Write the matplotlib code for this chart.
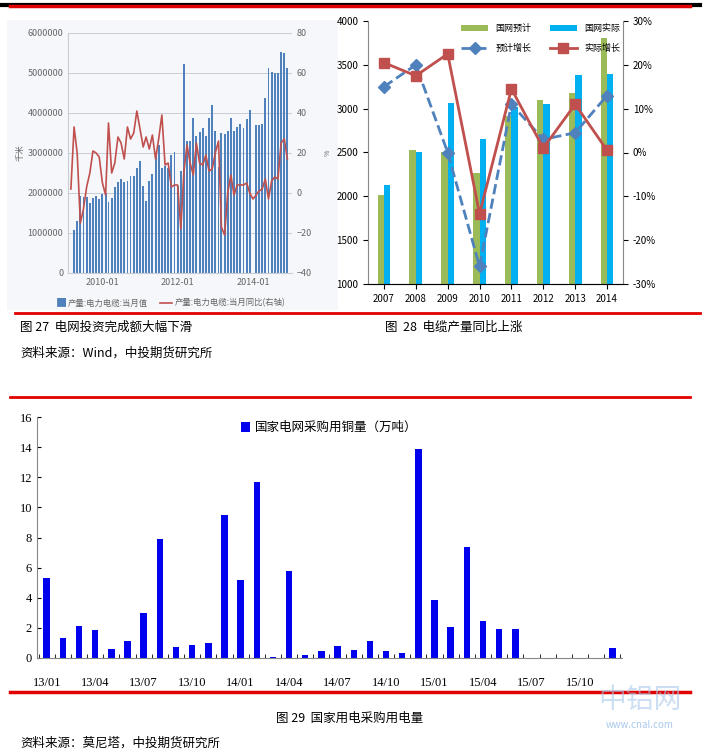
import matplotlib
matplotlib.use("Agg")
import matplotlib.pyplot as plt
import matplotlib.dates as mdates
import numpy as np
import pandas as pd

plt.rcParams['font.family'] = ['Noto Sans CJK SC', 'DejaVu Sans']

# ---- chart 27 data (monthly, 2009-03 .. 2014-12)
cable_vals = [1.07,1.3,1.93,1.9,1.9,1.76,1.87,1.93,1.86,1.98,
              2.0,1.78,1.87,2.15,2.27,2.34,2.27,2.3,2.42,2.42,2.62,2.8,
              2.17,1.8,2.3,2.47,2.93,3.2,2.63,2.67,2.62,2.95,3.03,2.17,
              2.55,5.22,3.3,3.3,3.88,3.42,3.52,3.63,3.42,3.88,4.2,3.55,
              2.65,3.5,3.48,3.55,3.88,3.55,3.65,3.72,3.63,3.85,4.07,0.0,
              3.7,3.7,3.72,4.37,5.13,5.02,5.0,5.0,5.52,5.5,5.12]
cable_yoy = [2,33,20,-15,-8,3,10,21,20,18,
             5,-1,35,10,15,28,25,17,33,27,30,41,
             32,23,28,22,29,17,27,39,14,15,3,4,
             4,-18,10,24,15,9,25,15,14,19,11,12,
             20,26,-17,-21,0,9,-1,4,4,4,5,0,
             -3,-1,1,2,7,-3,6,8,7,25,27,17]
months27 = pd.date_range("2009-03-01", periods=len(cable_yoy), freq="MS")
months27b = months27[len(months27)-len(cable_vals):]

# ---- chart 28 data
years = ["2007","2008","2009","2010","2011","2012","2013","2014"]
plan = [2020,2530,2500,2270,2920,3100,3180,3810]
actual = [2130,2500,3060,2650,3020,3050,3380,3400]
plan_g = [15,20,0,-26,11,3,4.5,13]
actual_g = [20.5,17.5,22.5,-14,14.5,1,11,0.5]

# ---- chart 29 data
labels29 = ["13/01","13/04","13/07","13/10","14/01","14/04","14/07","14/10","15/01","15/04","15/07","15/10"]
copper = [5.3,1.3,2.1,1.85,0.6,1.15,3.0,7.9,0.7,0.85,1.0,9.5,
          5.2,11.7,0.05,5.8,0.2,0.45,0.8,0.55,1.15,0.45,0.3,13.9,
          3.85,2.05,7.35,2.45,1.9,1.9,0.02,0.02,0.02,0,0,0.65]

W, H = 708, 755
fig = plt.figure(figsize=(W/100, H/100), dpi=100)

def rect(x0, y0, x1, y1):
    return [x0/W, 1-y1/H, (x1-x0)/W, (y1-y0)/H]

def hline(y, x0, x1, color, lw):
    fig.add_artist(plt.Line2D([x0/W, x1/W], [1-y/H, 1-y/H], color=color, lw=lw))

bg = fig.add_axes(rect(7, 20, 338, 310)); bg.set_facecolor('#f5f7fb'); bg.set_xticks([]); bg.set_yticks([])
for s in bg.spines.values(): s.set_visible(False)

ax1 = fig.add_axes(rect(68, 33, 292, 273))
ax1.set_facecolor('#f5f7fb')
ax1.bar(months27b, np.array(cable_vals)*1e6, width=18, color='#4f81bd')
ax1.set_ylim(0, 6e6); ax1.set_yticks(np.arange(0, 6.1e6, 1e6))
ax1.yaxis.set_major_formatter(matplotlib.ticker.FuncFormatter(lambda v, p: f"{int(v)}"))
ax1.set_xlim(pd.Timestamp("2009-02-01"), pd.Timestamp("2015-01-15"))
ax1.set_xticks([pd.Timestamp("2010-01-01"), pd.Timestamp("2012-01-01"), pd.Timestamp("2014-01-01")])
ax1.xaxis.set_major_formatter(mdates.DateFormatter("%Y-%m"))
ax1.grid(axis='y', color='#c8ccd4', lw=0.7); ax1.set_axisbelow(True)
ax1.tick_params(labelsize=6.5, colors='#666666', length=0)
ax1.set_ylabel("千米", fontsize=6, color='#666666', labelpad=2)
for s in ['top', 'right']: ax1.spines[s].set_visible(False)
ax1.spines['left'].set_color('#c8ccd4'); ax1.spines['bottom'].set_color('#c8ccd4')
ax1b = ax1.twinx()
ax1b.plot(months27, cable_yoy, color='#c0504d', lw=1.2)
ax1b.set_ylim(-40, 80); ax1b.set_yticks(range(-40, 81, 20))
ax1b.tick_params(labelsize=6.5, colors='#666666', length=0)
for s in ax1b.spines.values(): s.set_visible(False)
fig.text(56/W, 1-303/H, "■", color='#4f81bd', fontsize=8, va='center')
fig.text(68/W, 1-303/H, "产量:电力电缆:当月值", color='#666666', fontsize=6, va='center')
fig.add_artist(plt.Line2D([160/W, 172/W], [1-303/H]*2, color='#c0504d', lw=1.2))
fig.text(175/W, 1-303/H, "产量:电力电缆:当月同比(右轴)", color='#666666', fontsize=6, va='center')
fig.text(324/W, 1-153/H, "%", fontsize=5, color='#666666', rotation=90, va='center')

# chart 28
ax2 = fig.add_axes(rect(368, 21, 623, 284))
x = np.arange(len(years))
b1 = ax2.bar(x-0.1, plan, width=0.2, color='#9bbb59', label='国网预计')
b2 = ax2.bar(x+0.1, actual, width=0.2, color='#00b0f0', label='国网实际')
ax2.set_ylim(1000, 4000); ax2.set_yticks(range(1000, 4001, 500))
ax2.set_xticks(x); ax2.set_xticklabels(years)
ax2.set_xlim(-0.5, 7.5)
ax2.tick_params(labelsize=7)
for s in ['top', 'right']: ax2.spines[s].set_visible(False)
ax2.spines['left'].set_color('#888888'); ax2.spines['bottom'].set_color('#888888')
ax2b = ax2.twinx()
l1, = ax2b.plot(x, plan_g, color='#4f81bd', lw=2, ls='--', marker='D', ms=6, label='预计增长')
l2, = ax2b.plot(x, actual_g, color='#c0504d', lw=2, marker='s', ms=7, label='实际增长')
ax2b.set_ylim(-30, 30); ax2b.set_yticks(range(-30, 31, 10))
ax2b.yaxis.set_major_formatter(matplotlib.ticker.FuncFormatter(lambda v, p: f"{int(v)}%"))
ax2b.tick_params(labelsize=7)
for s in ['top', 'left']: ax2b.spines[s].set_visible(False)
ax2b.spines['right'].set_color('#888888')
ax2b.legend([b1, l1, b2, l2], ['国网预计', '预计增长', '国网实际', '实际增长'], ncol=2,
            loc='upper right', fontsize=6.5, frameon=False,
            bbox_to_anchor=(1.02, 1.02), columnspacing=2.0, handlelength=3, labelspacing=1.2)

# chart 29
ax3 = fig.add_axes(rect(37, 417, 622, 658))
ax3.bar(np.arange(len(copper)), copper, width=0.4, color='#0000ee', label='国家电网采购用铜量（万吨）')
ax3.set_ylim(0, 16); ax3.set_yticks(range(0, 17, 2))
ax3.set_xlim(-0.6, len(copper)-0.4)
ax3.set_xticks(np.arange(0, 36, 3)); ax3.set_xticklabels(labels29, family=['Liberation Serif'])
ax3.set_xticks(np.arange(-0.5, 36, 1), minor=True)
ax3.tick_params(axis='x', which='major', length=0, pad=14, labelsize=9)
ax3.tick_params(axis='x', which='minor', length=3, direction='in')
ax3.tick_params(axis='y', labelsize=9, direction='in', length=3)
for lab in ax3.get_yticklabels(): lab.set_family(['Liberation Serif'])
for s in ['top', 'right']: ax3.spines[s].set_visible(False)
ax3.spines['left'].set_color('#888888'); ax3.spines['bottom'].set_color('#888888')
ax3.legend(loc='upper center', bbox_to_anchor=(0.5, 1.03), frameon=False, fontsize=9,
           handlelength=0.7, handleheight=0.9, handletextpad=0.4)

# page decorations
hline(5, 0, 700, 'black', 3); hline(6, 10, 690, '#e00000', 2.5)
hline(313, 15, 700, '#e00000', 2)
hline(397, 10, 690, '#e00000', 2)
hline(692, 10, 690, '#e00000', 2.5)
fig.text(20/W, 1-327/H, "图 27  电网投资完成额大幅下滑", fontsize=9, va='center')
fig.text(385/W, 1-327/H, "图  28  电缆产量同比上涨", fontsize=9, va='center')
fig.text(20/W, 1-353/H, "资料来源：Wind，中投期货研究所", fontsize=9, va='center')
fig.text(350/W, 1-718/H, "图 29  国家用电采购用电量", fontsize=9, va='center', ha='center')
fig.text(20/W, 1-743/H, "资料来源：莫尼塔，中投期货研究所", fontsize=9, va='center')
fig.text(640/W, 1-700/H, "中铝网", fontsize=20, color='#a9c8ea', alpha=0.6, ha='center', va='center')
fig.text(640/W, 1-725/H, "www.cnal.com", fontsize=7, color='#a9c8ea', ha='center', va='center')

fig.savefig("out.png", dpi=100)
